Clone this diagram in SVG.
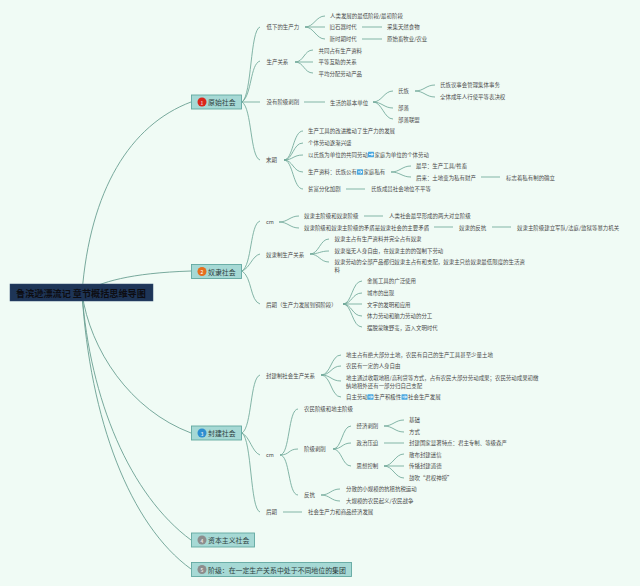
<svg xmlns="http://www.w3.org/2000/svg" width="640" height="586" viewBox="0 0 640 586">
<style>
text{font-family:"Noto Sans CJK SC","Liberation Sans",sans-serif;dominant-baseline:central;fill:#4a4a4a;font-size:5.45px}
.c path{fill:none;stroke:#6fa898;stroke-width:.85}
.c .m{stroke:#6a9f92;stroke-width:.9}
.n rect{fill:#a6d9d5;stroke:#62a8a0;stroke-width:.9}
.n text{fill:#2f3f3f;font-size:6.9px}
.n .b{fill:#fff;font-size:5px;text-anchor:middle}
.root rect{fill:#1e3557;stroke:#2c4a70;stroke-width:.5}
.root text{fill:#0d0d12;font-size:9.15px;font-weight:700}
.i rect{fill:#4aa8e0}
.i path{fill:none;stroke:#fff;stroke-width:.9}
</style>
<rect width="640" height="586" fill="#f0fbf5"/>
<g id="connectors" class="c">
<path class="m" d="M82 293C90 190 130 125 191 102"/>
<path class="m" d="M82 293C100 282 130 273 191 271"/>
<path class="m" d="M82 293C90 350 130 410 191 433"/>
<path class="m" d="M82 293C90 400 130 495 191 540"/>
<path class="m" d="M82 293C90 420 130 525 191 569"/>
<path d="M242 102C252 95 250 30 260 27"/>
<path d="M242 102C252 95 250 64 260 61"/>
<path d="M242 102H260"/>
<path d="M242 102C252 108 250 157 260 160"/>
<path d="M242 271C252 265 250 224 260 221"/>
<path d="M242 271C250 268 252 256 260 254"/>
<path d="M242 271C252 277 250 301 260 304"/>
<path d="M242 433C252 427 250 378 260 375"/>
<path d="M242 433C250 437 252 452 260 455"/>
<path d="M242 433C252 440 250 509 260 512"/>
<path d="M305 27C314 27 316 16 325 16"/><path d="M305 27H325"/><path d="M305 27C314 27 316 39 325 39"/>
<path d="M362 27H382"/><path d="M362 39H382"/>
<path d="M295 62C304 62 304 50 313 50"/><path d="M295 62H313"/><path d="M295 62C304 62 304 73 313 73"/>
<path d="M304 102H325"/>
<path d="M373 102C382 102 384 91 393 91"/><path d="M373 102C382 102 384 108 393 108"/><path d="M373 102C382 102 384 119 393 119"/>
<path d="M415 91C424 91 426 85 435 85"/><path d="M415 91C424 91 426 97 435 97"/>
<path d="M284 160C293 160 293 131 303 131"/><path d="M284 160C293 160 293 143 303 143"/><path d="M284 160C293 160 293 155 303 155"/><path d="M284 160C293 160 293 172 303 172"/><path d="M284 160C293 160 293 189 303 189"/>
<path d="M391 172C400 172 402 166 411 166"/><path d="M391 172C400 172 402 177 411 177"/>
<path d="M481 177H500"/><path d="M346 189H365"/>
<path d="M279 222C288 222 290 216 299 216"/><path d="M279 222C288 222 290 228 299 228"/>
<path d="M364 216H383"/><path d="M434 227H453"/><path d="M492 227H511"/>
<path d="M310 254C319 254 320 239 329 239"/><path d="M310 254C319 254 320 251 329 251"/><path d="M310 254C319 254 320 262 329 262"/>
<path d="M343 304C352 304 352 281 362 281"/><path d="M343 304C352 304 352 293 362 293"/><path d="M343 304H362"/><path d="M343 304C352 304 352 316 362 316"/><path d="M343 304C352 304 352 327 362 327"/>
<path d="M321 375C331 375 331 355 341 355"/><path d="M321 375C331 375 331 366 341 366"/><path d="M321 375C331 375 331 381 341 381"/><path d="M321 375C331 375 331 397 341 397"/>
<path d="M280 455C290 455 288 409 298 409"/><path d="M280 455C290 455 288 449 298 449"/><path d="M280 455C290 455 288 495 298 495"/>
<path d="M333 449C342 449 342 426 351 426"/><path d="M333 449C342 449 342 443 351 443"/><path d="M333 449C342 449 342 466 351 466"/>
<path d="M384 426C393 426 395 420 404 420"/><path d="M384 426C393 426 395 432 404 432"/>
<path d="M384 443H404"/>
<path d="M384 466C393 466 395 454 404 454"/><path d="M384 466H404"/><path d="M384 466C393 466 395 478 404 478"/>
<path d="M321 495C330 495 331 489 340 489"/><path d="M321 495C330 495 331 501 340 501"/>
<path d="M283 512H302"/>
</g>
<g id="root" class="root"><rect x="10" y="284" width="143" height="17"/><text x="16" y="293">鲁滨逊漂流记 章节概括思维导图</text></g>
<g id="n1" class="n"><rect x="191.500" y="95" width="50" height="14"/><circle cx="202" cy="102" r="4.500" fill="#d9261c"/><text class="b" x="202" y="102">1</text><text x="208" y="102">原始社会</text></g>
<g id="n2" class="n"><rect x="191.500" y="264.500" width="50" height="14"/><circle cx="202" cy="271.500" r="4.500" fill="#e56f1f"/><text class="b" x="202" y="271.500">2</text><text x="208" y="271.500">奴隶社会</text></g>
<g id="n3" class="n"><rect x="191.500" y="426" width="50" height="14"/><circle cx="202" cy="433" r="4.500" fill="#2e8fd0"/><text class="b" x="202" y="433">3</text><text x="208" y="433">封建社会</text></g>
<g id="n4" class="n"><rect x="191.500" y="533" width="63" height="14"/><circle cx="202" cy="540" r="4.500" fill="#8d8d8d"/><text class="b" x="202" y="540">4</text><text x="208" y="540">资本主义社会</text></g>
<g id="n5" class="n"><rect x="191.500" y="562.500" width="160" height="14"/><circle cx="202" cy="569.500" r="4.500" fill="#8d8d8d"/><text class="b" x="202" y="569.500">5</text><text x="208" y="569.500">阶级：在一定生产关系中处于不同地位的集团</text></g>
<g id="t1">
<text x="266.500" y="27">低下的生产力</text>
<text x="330" y="15.700">人类发展的最低阶段/最初阶段</text>
<text x="329.500" y="27">旧石器时代</text><text x="387" y="27">采集天然食物</text>
<text x="329.500" y="38.700">新时期时代</text><text x="387" y="38.700">原始畜牧业/农业</text>
<text x="266.500" y="62">生产关系</text>
<text x="318.500" y="50.500">共同占有生产资料</text><text x="318.500" y="62">平等互助的关系</text><text x="318.500" y="73.500">平均分配劳动产品</text>
<text x="266.500" y="102">没有阶级剥削</text><text x="330" y="102.500">生活的基本单位</text>
<text x="398" y="91">氏族</text><text x="398" y="108">部落</text><text x="398" y="119.500">部落联盟</text>
<text x="440" y="85">氏族议事会管理集体事务</text><text x="440" y="96.500">全体成年人行使平等表决权</text>
<text x="266" y="160">末期</text>
<text x="308" y="131">生产工具的改进推动了生产力的发展</text>
<text x="308" y="143">个体劳动逐渐兴盛</text>
<text x="308" y="154.500">以氏族为单位的共同劳动</text><text x="374.500" y="154.500">家庭为单位的个体劳动</text>
<text x="308" y="172">生产资料：氏族公有</text><text x="363.500" y="172">家庭私有</text>
<text x="308" y="189">贫富分化加剧</text><text x="371" y="189">氏族成员社会地位不平等</text>
<text x="416" y="166">最早：生产工具/牲畜</text><text x="416" y="177.500">后来：土地变为私有财产</text><text x="506" y="177.500">标志着私有制的确立</text>
</g>
<g id="t2">
<text x="266" y="222">cm</text>
<text x="304" y="216">奴隶主阶级和奴隶阶级</text><text x="389" y="216">人类社会最早形成的两大对立阶级</text>
<text x="304" y="227.500">奴隶阶级和奴隶主阶级的矛盾是奴隶社会的主要矛盾</text><text x="459" y="227.500">奴隶的反抗</text><text x="517" y="227.500">奴隶主阶级建立军队/法庭/监狱等暴力机关</text>
<text x="266" y="254.500">奴隶制生产关系</text>
<text x="334.500" y="239">奴隶主占有生产资料并完全占有奴隶</text>
<text x="334.500" y="250.500">奴隶毫无人身自由，在奴隶主的的强制下劳动</text>
<text x="334.500" y="262">奴隶劳动的全部产品都归奴隶主占有和支配，奴隶主只给奴隶最低限度的生活资</text>
<text x="334.500" y="270">料</text>
<text x="266" y="304.500">后期（生产力发展到铜阶段）</text>
<text x="367" y="281">金属工具的广泛使用</text><text x="367" y="293">城市的出现</text><text x="367" y="304.500">文字的发明和应用</text><text x="367" y="316">体力劳动和脑力劳动的分工</text><text x="367" y="327.500">摆脱蒙昧野蛮，迈入文明时代</text>
</g>
<g id="t3">
<text x="266" y="375.500">封建制社会生产关系</text>
<text x="346" y="354.500">地主占有绝大部分土地，农民有自己的生产工具甚至少量土地</text>
<text x="346" y="366">农民有一定的人身自由</text>
<text x="346" y="377.500">地主通过收取地租/高利贷等方式，占有农民大部分劳动成果；农民劳动成果初缴</text>
<text x="346" y="385.500">纳地租外还有一部分归自己支配</text>
<text x="346" y="397">自主劳动</text><text x="374" y="397">生产积极性</text><text x="408" y="397">社会生产发展</text>
<text x="266" y="455">cm</text>
<text x="304" y="408.500">农民阶级和地主阶级</text><text x="304" y="449">阶级剥削</text><text x="304" y="495">反抗</text>
<text x="356.500" y="426">经济剥削</text><text x="356.500" y="443">政治压迫</text><text x="356.500" y="466">思想控制</text>
<text x="409" y="420">基础</text><text x="409" y="431.500">方式</text><text x="409" y="443">封建国家显著特点：君主专制、等级森严</text>
<text x="409" y="454.500">散布封建迷信</text><text x="409" y="466">传播封建道德</text><text x="409" y="478">鼓吹“君权神授”</text>
<text x="346" y="489">分散的小规模的抗租抗税运动</text><text x="346" y="501">大规模的农民起义/农民战争</text>
<text x="266" y="512">后期</text><text x="308" y="512">社会生产力和商品经济发展</text>
</g>
<g id="icons" class="i">
<defs><g id="arr"><rect width="6" height="5.500" rx=".5"/><path d="M1 2.750H5M3.600 1.300L5 2.750L3.600 4.200"/></g></defs>
<use href="#arr" x="368" y="151.700"/><use href="#arr" x="357" y="169.200"/><use href="#arr" x="367.500" y="394.200"/><use href="#arr" x="401.500" y="394.200"/>
</g>
</svg>
